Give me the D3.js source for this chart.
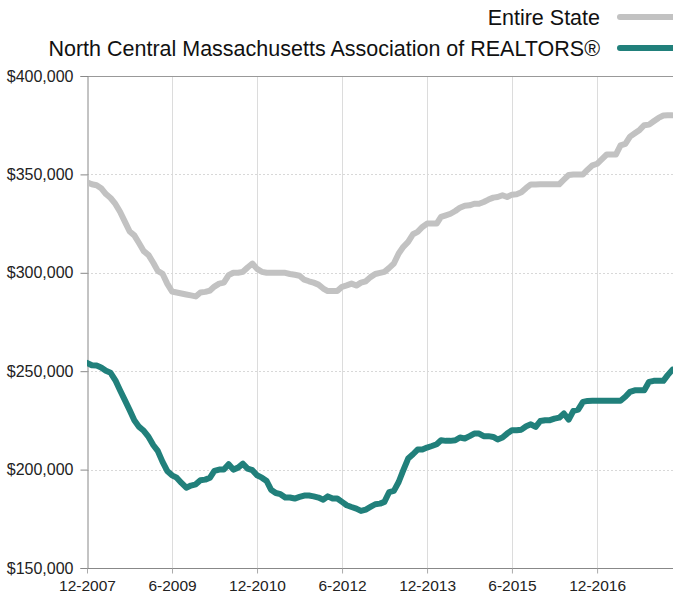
<!DOCTYPE html>
<html>
<head>
<meta charset="utf-8">
<script src="https://cdn.jsdelivr.net/npm/d3@7"></script>
<style>
  body { margin: 0; background: #fff; }
  svg { display: block; font-family: "Liberation Sans", Arial, Helvetica, sans-serif; }
</style>
</head>
<body>
<div id="chart"></div>
<script>
// monthly values, 12-2007 through 4-2018
var firstMonth = new Date(2007, 11, 1)

var stateValues = [
  346000, 345000, 344500, 343000, 340000, 338000, 335000, 331000, 326000, 321000,
  319000, 315000, 311000, 309000, 305000, 301000, 299500, 294500, 290500, 290000,
  289500, 289000, 288500, 288000, 290000, 290300, 291000, 293000, 294500, 295000,
  298800, 300000, 300000, 300500, 302700, 304700, 302000, 300500, 300000, 300000,
  300000, 300000, 300000, 299400, 299000, 298500, 296500, 295700, 295000, 294000,
  292000, 290700, 290700, 290700, 292900, 293600, 294500, 293500, 295000, 295700,
  297800, 299400, 300000, 300500, 302500, 304700, 309800, 313200, 315700, 319600,
  320800, 323300, 325000, 325000, 325000, 328400, 329200, 330000, 331400, 333100,
  334100, 334300, 335100, 335100, 336000, 337200, 338200, 338500, 339400, 338500,
  339700, 339900, 340900, 343100, 344900, 344900, 345000, 345000, 345000, 345000,
  345000, 347300, 349700, 350000, 350000, 350000, 352400, 354600, 355400, 357800,
  360100, 360100, 360100, 364700, 365500, 369200, 370900, 372600, 375000, 375300,
  377000, 378700, 379900, 380000, 380000
]

var ncmarValues = [
  254200, 253000, 252900, 251900, 250200, 249200, 245400, 240300, 235300, 230200,
  225100, 221700, 219700, 216600, 212400, 209500, 203900, 199300, 197100, 195900,
  193200, 190800, 191900, 192500, 194600, 194900, 195900, 199300, 200000, 200000,
  202700, 200000, 201000, 203000, 200500, 199700, 197100, 195900, 194200, 189800,
  188100, 187500, 185800, 185800, 185300, 186100, 186800, 186800, 186400, 185800,
  184700, 186400, 185300, 185300, 183600, 181900, 181000, 180200, 179000, 179700,
  181000, 182400, 182700, 183600, 188600, 189200, 193700, 199700, 205600, 207800,
  210200, 210200, 211200, 212000, 212900, 214900, 214600, 214600, 214900, 216300,
  215800, 217000, 218300, 218300, 217000, 217000, 216600, 215300, 216300, 218300,
  220000, 220000, 220300, 222000, 223000, 221700, 224700, 225100, 225100, 225900,
  226400, 228500, 225400, 229800, 230500, 234400, 234900, 235000, 235000, 235000,
  235000, 235000, 235000, 235000, 237000, 239500, 240300, 240300, 240300, 244600,
  245100, 245100, 245100, 248000, 250800
]

var seriesNames = ["Entire State", "North Central Massachusetts Association of REALTORS®"]
var seriesColors = ["#c2c2c2", "#21807b"]
var yTicks = [150000, 200000, 250000, 300000, 350000, 400000]
var xTickLabels = ["12-2007", "6-2009", "12-2010", "6-2012", "12-2013", "6-2015", "12-2016"]

var width = 673
var height = 596
var margin = { top: 76, right: 0, bottom: 28, left: 87 }

var months = stateValues.map(function(d, i) { return d3.timeMonth.offset(firstMonth, i) })

var svg = d3.select("#chart").append("svg")
    .attr("width", width)
    .attr("height", height)

var x = d3.scaleTime()
    .domain([months[0], months[months.length - 1]])
    .range([margin.left, 672.5])

var y = d3.scaleLinear()
    .domain([150000, 400000])
    .range([height - margin.bottom, margin.top])

var xTickDates = xTickLabels.map(function(s) {
  var p = s.split("-")
  return new Date(+p[1], +p[0] - 1, 1)
})

// grid
svg.append("g")
  .selectAll("line")
  .data(xTickDates.slice(1))
  .join("line")
    .attr("x1", d => Math.round(x(d)) + 0.5)
    .attr("x2", d => Math.round(x(d)) + 0.5)
    .attr("y1", y(400000))
    .attr("y2", y(150000))
    .attr("stroke", "#dcdcdc")
    .attr("stroke-width", 1)

svg.append("g")
  .selectAll("line")
  .data(yTicks.slice(1, -1))
  .join("line")
    .attr("x1", margin.left)
    .attr("x2", width)
    .attr("y1", d => Math.round(y(d)) + 0.5)
    .attr("y2", d => Math.round(y(d)) + 0.5)
    .attr("stroke", "#d8d8d8")
    .attr("stroke-width", 1)
    .attr("stroke-dasharray", "2 2")

// top border
svg.append("line")
    .attr("x1", margin.left)
    .attr("x2", width)
    .attr("y1", Math.round(y(400000)) + 0.5)
    .attr("y2", Math.round(y(400000)) + 0.5)
    .attr("stroke", "#999")

// axes
var yAxis = svg.append("g")
    .attr("transform", "translate(" + (margin.left + 0.5) + ",0)")
    .call(d3.axisLeft(y).tickValues(yTicks).tickSize(7).tickPadding(7)
      .tickFormat(d => "$" + d3.format(",")(d)))
yAxis.select(".domain").attr("stroke", "#888")
yAxis.selectAll(".tick line").attr("stroke", "#888")
yAxis.selectAll("text").attr("font-size", 16).attr("fill", "#222")
    .attr("font-family", "'Liberation Sans', Arial, sans-serif")

var xAxis = svg.append("g")
    .attr("transform", "translate(0," + (y(150000) + 0.5) + ")")
    .call(d3.axisBottom(x).tickValues(xTickDates).tickSize(5).tickPadding(6)
      .tickFormat((d, i) => xTickLabels[i]))
xAxis.select(".domain").attr("stroke", "#888").attr("d", "M" + margin.left + ",0H" + width)
xAxis.selectAll(".tick line").attr("stroke", "#aaa")
xAxis.selectAll("text").attr("font-size", 15.5).attr("fill", "#222")
    .attr("font-family", "'Liberation Sans', Arial, sans-serif")

// lines
var line = d3.line()
    .x((d, i) => x(months[i]))
    .y(d => y(d))

svg.append("clipPath").attr("id", "plotclip")
  .append("rect")
    .attr("x", margin.left)
    .attr("y", 0)
    .attr("width", width - margin.left)
    .attr("height", height)

svg.append("g").attr("clip-path", "url(#plotclip)")
  .selectAll("path")
  .data([stateValues, ncmarValues])
  .join("path")
    .attr("d", line)
    .attr("fill", "none")
    .attr("stroke", (d, i) => seriesColors[i])
    .attr("stroke-width", 6)
    .attr("stroke-linejoin", "round")
    .attr("stroke-linecap", "round")

// legend
var legend = svg.append("g")
  .selectAll("g")
  .data(seriesNames)
  .join("g")
    .attr("transform", (d, i) => "translate(0," + (17 + i * 31) + ")")

legend.append("text")
    .attr("x", 600)
    .attr("y", 0)
    .attr("dy", "0.35em")
    .attr("text-anchor", "end")
    .attr("font-size", 21.5)
    .attr("fill", "#111")
    .text(d => d)

legend.append("line")
    .attr("x1", 620)
    .attr("x2", 690)
    .attr("y1", 0)
    .attr("y2", 0)
    .attr("stroke", (d, i) => seriesColors[i])
    .attr("stroke-width", 6)
    .attr("stroke-linecap", "round")
</script>
</body>
</html>
